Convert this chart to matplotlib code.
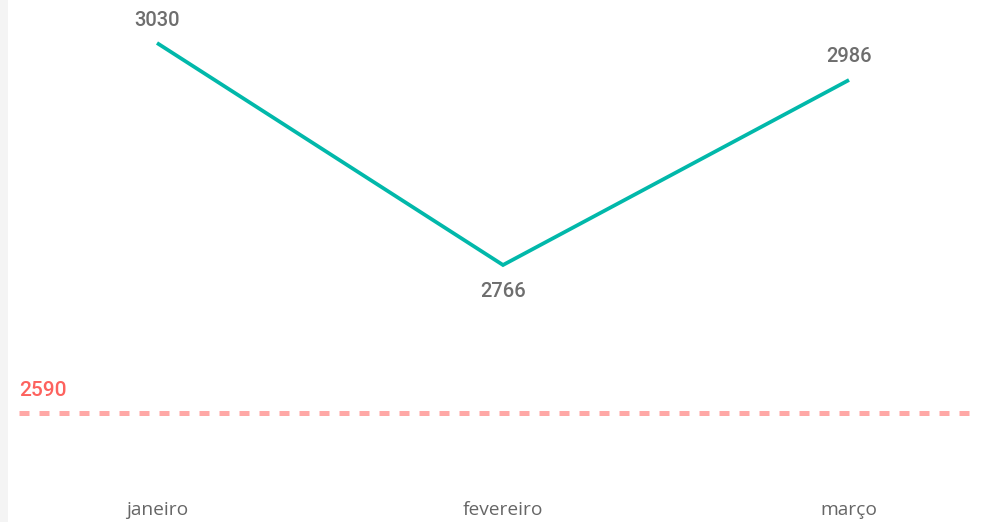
import matplotlib
matplotlib.use("Agg")
import matplotlib.pyplot as plt
from matplotlib.patches import Rectangle
import matplotlib.transforms as mtransforms

months = ["janeiro", "fevereiro", "março"]
values = [3030, 2766, 2986]
reference_value = 2590
label_pos = ["above", "below", "above"]

W, H = 984, 522
fig = plt.figure(figsize=(W / 100, H / 100), dpi=100)
fig.patch.set_facecolor("white")
ax = fig.add_axes([0, 0, 1, 1])
ax.set_facecolor("white")
for s in ax.spines.values():
    s.set_visible(False)
ax.set_xticks([])
ax.set_yticks([])

# pixel mapping
x0px, dxpx = 157, 346
ypx_top_val, ppu = 43, 0.8409
ax.set_xlim((0 - x0px) / dxpx, (W - x0px) / dxpx)
ax.set_ylim(values[0] - (H - ypx_top_val) / ppu, values[0] + ypx_top_val / ppu)

xs = list(range(len(months)))
ax.plot(xs, values, color="#01B8AA", lw=2.7, solid_capstyle="butt", solid_joinstyle="miter", zorder=3)

# reference line
xl = (19 - x0px) / dxpx
xr = (978 - x0px) / dxpx
ax.plot([xl, xr], [reference_value, reference_value], color="#FFA8A6", lw=3.6,
        dashes=(2.0, 2.0), dash_capstyle="butt", zorder=2)
ax.annotate(str(reference_value), (xl, reference_value), xytext=(0, 22), textcoords="offset pixels",
            ha="left", va="center", color="#FD625E", fontsize=15, family="Roboto", fontweight="medium")

for x, v, pos in zip(xs, values, label_pos):
    off = 23 if pos == "above" else -27
    ax.annotate(str(v), (x, v), xytext=(0, off), textcoords="offset pixels",
                ha="center", va="center", color="#6e6e6e", fontsize=14.5, family="Roboto",
                fontweight="medium")

trans = mtransforms.blended_transform_factory(ax.transData, ax.transAxes)
for x, m in zip(xs, months):
    ax.text(x, 1 - 510 / H, m, transform=trans, ha="center", va="center",
            color="#666666", fontsize=13.8, family="Open Sans")

# left shadow border
fig.patches.append(Rectangle((0, 0), 8 / W, 1, transform=fig.transFigure,
                             facecolor="#f4f4f4", edgecolor="none", zorder=0))

fig.savefig("out.png", dpi=100, facecolor="white")
